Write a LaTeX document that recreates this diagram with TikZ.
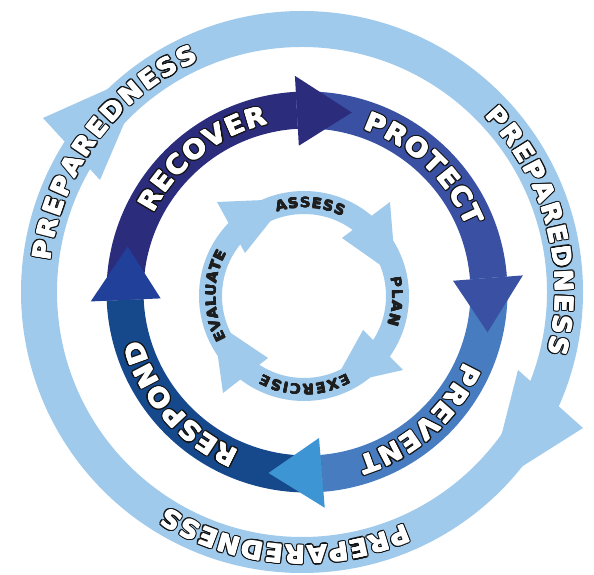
\documentclass[tikz,border=0pt]{standalone}
\usepackage{fontspec}
\newfontfamily\dejavu{DejaVu Sans}[FakeStretch=1.06]
\usetikzlibrary{decorations.text}
\definecolor{ringlight}{RGB}{160,202,235}
\definecolor{recover}{RGB}{43,44,124}
\definecolor{protect}{RGB}{58,81,163}
\definecolor{prevent}{RGB}{71,125,192}
\definecolor{respond}{RGB}{22,73,139}
\definecolor{headL}{RGB}{33,64,154}
\definecolor{headB}{RGB}{61,150,211}
\definecolor{innertext}{RGB}{30,30,30}
\definecolor{outline}{RGB}{20,20,20}
\newcommand\bigfmt{\dejavu\bfseries\fontsize{26}{30}\selectfont}
\newcommand\outerfmt{\dejavu\bfseries\fontsize{25}{29}\selectfont}
\newcommand\innerfmt{\dejavu\bfseries\fontsize{14}{16}\selectfont\color{innertext}}
% annular sector: center, r in, r out, start angle, end angle, colour
\newcommand\ringsector[6]{\fill[#6] ([shift={(#4:#3)}]#1) arc[start angle=#4,end angle=#5,radius=#3] -- ([shift={(#5:#2)}]#1) arc[start angle=#5,end angle=#4,radius=#2] -- cycle;}
% arrow head: center, base angle, inner wing r, outer wing r, tip (angle:r), colour
\newcommand\ringhead[6]{\fill[#6] ([shift={(#2:#3)}]#1) -- ([shift={(#2:#4)}]#1) -- ([shift={(#5)}]#1) -- cycle;}
% outlined white text along a clockwise arc
\newcommand\outlabel[6]{%
  \foreach \ox/\oy in {1.6/0,-1.6/0,0/1.6,0/-1.6,1.13/1.13,-1.13/1.13,1.13/-1.13,-1.13/-1.13,1.48/0.61,-1.48/0.61,1.48/-0.61,-1.48/-0.61,0.61/1.48,-0.61/1.48,0.61/-1.48,-0.61/-1.48}{%
    \path[decorate,decoration={text along path,text align={fit to path},text={|#5\color{outline}|#6}}]
      ([shift={(#3:#2)},xshift=\ox pt,yshift=\oy pt]#1) arc[start angle=#3,end angle=#4,radius=#2];
  }%
  \foreach \ox/\oy in {0/0,0.45/0,-0.45/0,0/0.45,0/-0.45}{%
    \path[decorate,decoration={text along path,text align={fit to path},text={|#5\color{white}|#6}}]
      ([shift={(#3:#2)},xshift=\ox pt,yshift=\oy pt]#1) arc[start angle=#3,end angle=#4,radius=#2];
  }%
}
\newcommand\plainlabel[6]{%
  \foreach \ox/\oy in {0/0,0.3/0,-0.3/0,0/0.3,0/-0.3}{%
    \path[decorate,decoration={text along path,text align={fit to path},text={|#5|#6}}]
      ([shift={(#3:#2)},xshift=\ox pt,yshift=\oy pt]#1) arc[start angle=#3,end angle=#4,radius=#2];
  }%
}
\begin{document}
\begin{tikzpicture}[x=1pt,y=1pt]
\useasboundingbox (0,0) rectangle (594,575);
\fill[white] (0,0) rectangle (594,575);
\coordinate (OC) at (302,283);
\coordinate (MC) at (307,283);
\coordinate (IC) at (304,279);
% ---------- outer ring ----------
\fill[ringlight,even odd rule] (OC) circle[radius=281] (OC) circle[radius=245];
\coordinate (ulO) at (43,457);
\coordinate (ulI) at (100,395);
\coordinate (ulT) at (146,503);
\coordinate (rI) at (518,205);
\coordinate (rO) at (583,147);
\coordinate (rT) at (488,87);
\fill[ringlight] (ulO) -- (ulT) -- (ulI) -- cycle;
\fill[ringlight] (rI) -- (rT) -- (rO) -- cycle;
% ---------- middle ring ----------
\ringsector{MC}{163.5}{200.5}{182.5}{93.2}{recover}
\ringsector{MC}{163.5}{200.5}{93.2}{4.4}{protect}
\ringsector{MC}{163.5}{200.5}{4.4}{-85.3}{prevent}
\ringsector{MC}{163.5}{200.5}{-85.3}{-177.5}{respond}
\ringhead{MC}{93.2}{146.5}{216.5}{76:185}{recover}
\ringhead{MC}{4.4}{146.5}{216.5}{-12.6:185}{protect}
\ringhead{MC}{-85.3}{146.5}{216.5}{-102:185}{headB}
\ringhead{MC}{182.5}{146.5}{216.5}{165.8:185}{headL}
% ---------- inner ring ----------
\fill[ringlight,even odd rule] (IC) circle[radius=105] (IC) circle[radius=82];
\coordinate (aO) at (390,373); \coordinate (aI) at (342,337); \coordinate (aT) at (396,299);
\coordinate (bI) at (363,245); \coordinate (bO) at (403,205); \coordinate (bT) at (332,189);
\coordinate (cI) at (268,217); \coordinate (cO) at (223,182); \coordinate (cT) at (213,254);
\coordinate (dO) at (217,373); \coordinate (dI) at (245,322); \coordinate (dT) at (288,376);
\fill[ringlight] (aO) -- (aT) -- (aI) -- cycle;
\fill[ringlight] (bO) -- (bT) -- (bI) -- cycle;
\fill[ringlight] (cO) -- (cT) -- (cI) -- cycle;
\fill[ringlight] (dO) -- (dT) -- (dI) -- cycle;
% ---------- labels ----------
\outlabel{OC}{253.5}{173}{114}{\outerfmt}{PREPAREDNESS}
\outlabel{OC}{253.5}{44}{-14}{\outerfmt}{PREPAREDNESS}
\outlabel{OC}{253.5}{-66}{-122}{\outerfmt}{PREPAREDNESS}
\outlabel{MC}{172.5}{153}{103}{\bigfmt}{RECOVER}
\outlabel{MC}{172.5}{71}{22}{\bigfmt}{PROTECT}
\outlabel{MC}{172.5}{-24}{-73}{\bigfmt}{PREVENT}
\outlabel{MC}{172.5}{-113}{-164}{\bigfmt}{RESPOND}
\plainlabel{IC}{88.4}{108}{64}{\innerfmt}{ASSESS}
\plainlabel{IC}{88.4}{12}{-19}{\innerfmt}{PLAN}
\plainlabel{IC}{88.4}{-61}{-118}{\innerfmt}{EXERCISE}
\plainlabel{IC}{88.4}{209}{151}{\innerfmt}{EVALUATE}
\end{tikzpicture}
\end{document}
